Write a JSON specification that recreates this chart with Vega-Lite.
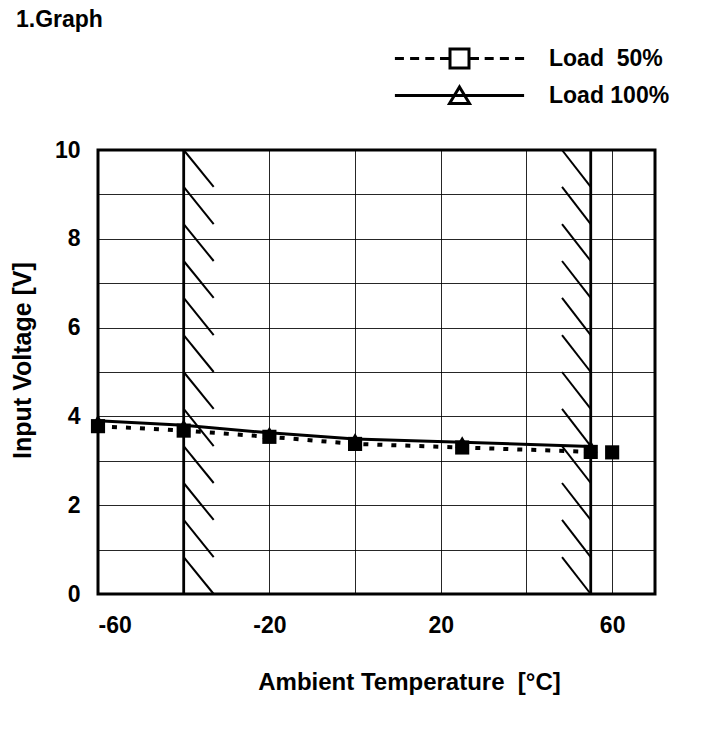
{
  "$schema": "https://vega.github.io/schema/vega-lite/v6.json",
  "autosize": "none",
  "width": 557,
  "height": 444,
  "padding": {"left": 98, "top": 150, "right": 49, "bottom": 148},
  "background": "white",
  "title": {"text": "1.Graph", "anchor": "start", "frame": "group", "dx": -82, "offset": -3, "baseline": "alphabetic", "font": "Liberation Sans", "fontSize": 23, "fontWeight": "bold", "color": "black"},
  "config": {
    "view": {"stroke": "black", "strokeWidth": 3},
    "axis": {"labelFont": "Liberation Sans", "labelFontSize": 23, "labelFontWeight": "bold", "labelColor": "black", "titleFont": "Liberation Sans", "titleFontSize": 24, "titleFontWeight": "bold", "titleColor": "black", "grid": true, "gridColor": "black", "gridWidth": 1, "gridOpacity": 0.85, "ticks": false, "domain": false}
  },
  "datasets": {
    "series": [
      {"series": "Load 100%", "temp": -60, "v": 3.9},
      {"series": "Load 100%", "temp": -40, "v": 3.8},
      {"series": "Load 100%", "temp": -20, "v": 3.63},
      {"series": "Load 100%", "temp": 0, "v": 3.49},
      {"series": "Load 100%", "temp": 25, "v": 3.42},
      {"series": "Load 100%", "temp": 55, "v": 3.32},
      {"series": "Load  50%", "temp": -60, "v": 3.78},
      {"series": "Load  50%", "temp": -40, "v": 3.68},
      {"series": "Load  50%", "temp": -20, "v": 3.54},
      {"series": "Load  50%", "temp": 0, "v": 3.38},
      {"series": "Load  50%", "temp": 25, "v": 3.3},
      {"series": "Load  50%", "temp": 55, "v": 3.2},
      {"series": "Load  50%", "temp": 60, "v": 3.19}
    ],
    "bounds": [{"t": -40, "w": 2.5}, {"t": 55, "w": 3}],
    "hatch": [
      {"t1": -40, "t2": -33, "v1": 10, "v2": 9.167},
      {"t1": -40, "t2": -33, "v1": 9.167, "v2": 8.333},
      {"t1": -40, "t2": -33, "v1": 8.333, "v2": 7.5},
      {"t1": -40, "t2": -33, "v1": 7.5, "v2": 6.667},
      {"t1": -40, "t2": -33, "v1": 6.667, "v2": 5.833},
      {"t1": -40, "t2": -33, "v1": 5.833, "v2": 5},
      {"t1": -40, "t2": -33, "v1": 5, "v2": 4.167},
      {"t1": -40, "t2": -33, "v1": 4.167, "v2": 3.333},
      {"t1": -40, "t2": -33, "v1": 3.333, "v2": 2.5},
      {"t1": -40, "t2": -33, "v1": 2.5, "v2": 1.667},
      {"t1": -40, "t2": -33, "v1": 1.667, "v2": 0.833},
      {"t1": -40, "t2": -33, "v1": 0.833, "v2": 0},
      {"t1": 48.3, "t2": 55, "v1": 10, "v2": 9.167},
      {"t1": 48.3, "t2": 55, "v1": 9.167, "v2": 8.333},
      {"t1": 48.3, "t2": 55, "v1": 8.333, "v2": 7.5},
      {"t1": 48.3, "t2": 55, "v1": 7.5, "v2": 6.667},
      {"t1": 48.3, "t2": 55, "v1": 6.667, "v2": 5.833},
      {"t1": 48.3, "t2": 55, "v1": 5.833, "v2": 5},
      {"t1": 48.3, "t2": 55, "v1": 5, "v2": 4.167},
      {"t1": 48.3, "t2": 55, "v1": 4.167, "v2": 3.333},
      {"t1": 48.3, "t2": 55, "v1": 3.333, "v2": 2.5},
      {"t1": 48.3, "t2": 55, "v1": 2.5, "v2": 1.667},
      {"t1": 48.3, "t2": 55, "v1": 1.667, "v2": 0.833},
      {"t1": 48.3, "t2": 55, "v1": 0.833, "v2": 0}
    ]
  },
  "layer": [
    {
      "data": {"name": "hatch"},
      "mark": {"type": "rule", "color": "black", "strokeWidth": 2},
      "encoding": {
        "x": {"field": "t1", "type": "quantitative", "scale": {"domain": [-60, 70], "nice": false, "zero": false},
          "axis": {"values": [-60, -40, -20, 0, 20, 40, 60], "labelExpr": "(datum.value + 60) % 40 === 0 ? (datum.value < 0 ? '-' + abs(datum.value) : '' + datum.value) : ''", "labelPadding": 20, "title": "Ambient Temperature \u00a0[°C]", "titleX": 311, "titleY": 88, "titleBaseline": "middle"}},
        "x2": {"field": "t2"},
        "y": {"field": "v1", "type": "quantitative", "scale": {"domain": [0, 10], "nice": false},
          "axis": {"values": [0, 1, 2, 3, 4, 5, 6, 7, 8, 9, 10], "labelExpr": "datum.value % 2 === 0 ? datum.label : ''", "labelPadding": 18, "title": "Input Voltage [V]", "titleFontSize": 25, "titleX": -76, "titleY": 210, "titleBaseline": "middle"}},
        "y2": {"field": "v2"}
      }
    },
    {
      "data": {"name": "bounds"},
      "mark": {"type": "rule", "color": "black", "strokeWidth": 2.8},
      "encoding": {"x": {"field": "t", "type": "quantitative"}}
    },
    {
      "data": {"name": "series"},
      "transform": [{"filter": "datum.temp <= 55 && datum.series === 'Load  50%'"}],
      "mark": {"type": "line", "color": "black", "strokeWidth": 4, "strokeDash": [5, 9]},
      "encoding": {
        "x": {"field": "temp", "type": "quantitative"},
        "y": {"field": "v", "type": "quantitative"}
      }
    },
    {
      "data": {"name": "series"},
      "transform": [{"filter": "datum.series === 'Load 100%'"}],
      "mark": {"type": "line", "color": "black", "strokeWidth": 3},
      "encoding": {
        "x": {"field": "temp", "type": "quantitative"},
        "y": {"field": "v", "type": "quantitative"}
      }
    },
    {
      "data": {"name": "series"},
      "transform": [{"filter": "datum.series === 'Load 100%'"}],
      "mark": {"type": "point", "shape": "triangle-up", "filled": true, "color": "black", "size": 190, "opacity": 1},
      "encoding": {
        "x": {"field": "temp", "type": "quantitative"},
        "y": {"field": "v", "type": "quantitative"}
      }
    },
    {
      "data": {"name": "series"},
      "transform": [{"filter": "datum.series === 'Load  50%'"}],
      "mark": {"type": "point", "shape": "square", "filled": true, "color": "black", "size": 200, "opacity": 1},
      "encoding": {
        "x": {"field": "temp", "type": "quantitative"},
        "y": {"field": "v", "type": "quantitative"}
      }
    },
    {
      "data": {"name": "series"},
      "transform": [{"filter": "datum.temp > 1000"}],
      "mark": {"type": "point", "filled": false, "color": "black", "strokeWidth": 3, "opacity": 1},
      "encoding": {
        "x": {"field": "temp", "type": "quantitative"},
        "y": {"field": "v", "type": "quantitative"},
        "shape": {"field": "series", "type": "nominal", "sort": ["Load  50%", "Load 100%"],
          "scale": {"domain": ["Load  50%", "Load 100%"], "range": ["M-6.8,0H-5.85M-5.2,0H-4.25M-3.6,0H-2.65M-2.05,0H-1.1M1.1,0H2.05M2.65,0H3.6M4.25,0H5.2M5.85,0H6.8M-1,-1H1V1H-1Z", "M-6.8,0H6.8M0,-0.9L1.05,0.85H-1.05Z"]},
          "legend": {
            "orient": "none", "legendX": 350, "legendY": -103, "title": null,
            "symbolSize": 361, "symbolStrokeWidth": 3, "symbolStrokeColor": "black", "symbolFillColor": "white", "symbolOpacity": 1,
            "labelOffset": 78, "rowPadding": 6,
            "labelFont": "Liberation Sans", "labelFontSize": 23, "labelFontWeight": "bold", "labelColor": "black",
            "labelExpr": "datum.label === 'Load 100%' ? datum.label : 'Load \u00a050%'"
          }}
      }
    }
  ]
}
